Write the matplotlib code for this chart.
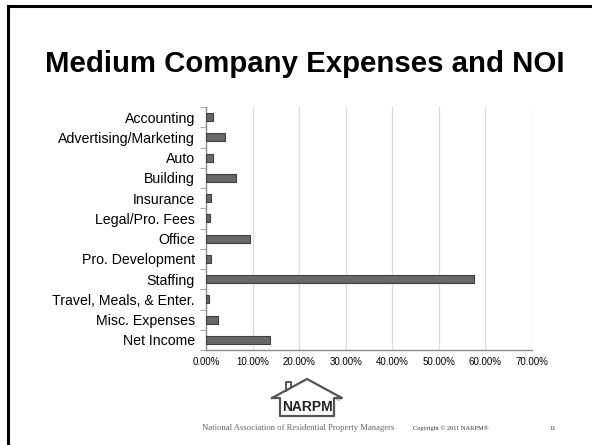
"""Medium company expenses and NOI slide (NARPM), horizontal bar chart."""

import matplotlib
matplotlib.use("Agg")
import matplotlib.pyplot as plt
from matplotlib.lines import Line2D
from matplotlib.ticker import FixedLocator, FuncFormatter

categories = [
    "Accounting", "Advertising/Marketing", "Auto", "Building", "Insurance",
    "Legal/Pro. Fees", "Office", "Pro. Development", "Staffing",
    "Travel, Meals, & Enter.", "Misc. Expenses", "Net Income",
]
shares = [1.5, 4.0, 1.6, 6.4, 1.05, 0.95, 9.4, 1.15, 57.5, 0.7, 2.5, 13.7]
x_ticks = [0, 10, 20, 30, 40, 50, 60, 70]

W, H = 592, 445
plt.rcParams["font.family"] = ["Liberation Sans", "DejaVu Sans"]
fig = plt.figure(figsize=(W / 100, H / 100), dpi=100)


def px(x, y):
    # pixel coords (origin top-left) -> figure fraction
    return x / W, 1 - y / H


l, t = px(206, 107)
r, b = px(532, 350)
ax = fig.add_axes([l, b, r - l, t - b])

ypos = list(range(len(categories)))
ax.barh(ypos, shares, height=0.4, color="#686868", edgecolor="#3f3f3f", linewidth=0.8, zorder=3)
ax.set_ylim(len(categories) - 0.5, -0.5)
ax.set_xlim(0, 70)

ax.set_yticks(ypos)
ax.set_yticklabels(categories, fontsize=10.2)
ax.yaxis.set_minor_locator(FixedLocator([i - 0.5 for i in range(len(categories) + 1)]))
ax.tick_params(axis="y", which="major", length=0, pad=8)
ax.tick_params(axis="y", which="minor", length=4, color="#aaaaaa", width=0.8)

ax.set_xticks(x_ticks)
ax.xaxis.set_major_formatter(FuncFormatter(lambda v, _: f"{v:.2f}%"))
ax.tick_params(axis="x", length=0, labelsize=7, pad=5)
ax.grid(axis="x", color="#dcdcdc", linewidth=0.9, zorder=0)

for side in ("top", "right"):
    ax.spines[side].set_visible(False)
for side in ("left", "bottom"):
    ax.spines[side].set_color("#8c8c8c")
    ax.spines[side].set_linewidth(1.0)

# title
tx, ty = px(305, 72)
fig.text(tx, ty, "Medium Company Expenses and NOI", ha="center", va="baseline",
         fontsize=21.2, fontweight="bold", color="black")

# slide frame (left and top edges)
x0, y0 = px(8, 6)
fig.add_artist(Line2D([x0, x0], [y0, 0], color="black", lw=2.2, transform=fig.transFigure))
fig.add_artist(Line2D([x0, 1], [y0, y0], color="black", lw=2.2, transform=fig.transFigure))

# NARPM house logo
house_x = [272, 280, 280, 334, 334, 342, 307, 272]
house_y = [398, 398, 416, 416, 398, 398, 379, 398]
pts = [px(x, y) for x, y in zip(house_x, house_y)]
fig.add_artist(Line2D([p[0] for p in pts], [p[1] for p in pts], color="#555555", lw=1.6,
                      transform=fig.transFigure))
cx = [px(286, 391), px(286, 382), px(291, 382), px(291, 387)]
fig.add_artist(Line2D([p[0] for p in cx], [p[1] for p in cx], color="#555555", lw=1.4,
                      transform=fig.transFigure))
nx, ny = px(307, 407)
fig.text(nx, ny, "NARPM", ha="center", va="center", fontsize=10, fontweight="bold",
         color="#222222", family=["Liberation Sans Narrow", "Liberation Sans", "DejaVu Sans"])
rx, ry = px(338, 400)
fig.text(rx, ry, "®", ha="center", va="center", fontsize=5, color="#555555")

# footer
fx, fy = px(202, 430)
fig.text(fx, fy, "National Association of Residential Property Managers", ha="left",
         va="baseline", fontsize=6.2, color="#666666", family=["Liberation Serif", "DejaVu Serif"])
cx0, cy0 = px(413, 430)
fig.text(cx0, cy0, "Copyright © 2011 NARPM®", ha="left", va="baseline", fontsize=4.6,
         color="#333333", family=["Liberation Serif", "DejaVu Serif"])
ex, ey = px(553, 430)
fig.text(ex, ey, "11", ha="center", va="baseline", fontsize=4.8, color="#333333",
         family=["Liberation Serif", "DejaVu Serif"])

fig.savefig("out.png", dpi=100)
